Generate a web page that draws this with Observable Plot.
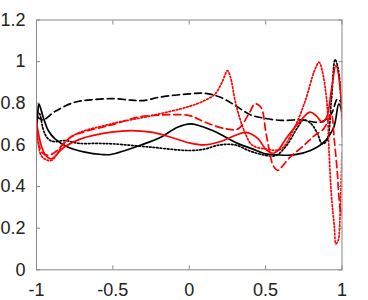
<!DOCTYPE html>
<html><head><meta charset="utf-8">
<script src="https://cdn.jsdelivr.net/npm/d3@7"></script>
<script src="https://cdn.jsdelivr.net/npm/@observablehq/plot@0.6"></script>
<style>body{margin:0;background:#fff}</style>
</head><body><div id="chart"></div>
<script>
const xTicks = [-1, -0.5, 0, 0.5, 1];
const yTicks = [0, 0.2, 0.4, 0.6, 0.8, 1, 1.2];

const blackSolidX = [-1, -0.99, -0.984, -0.956, -0.923, -0.879, -0.792, -0.683, -0.574, -0.513, -0.295, -0.186, -0.077, 0.01, 0.062, 0.152, 0.239, 0.324, 0.413, 0.5, 0.576, 0.685, 0.794, 0.881, 0.946, 0.979, 1];
const blackSolidY = [0.62, 0.77, 0.797, 0.733, 0.669, 0.629, 0.589, 0.565, 0.554, 0.554, 0.605, 0.637, 0.685, 0.701, 0.693, 0.669, 0.637, 0.605, 0.581, 0.557, 0.552, 0.552, 0.573, 0.613, 0.685, 0.797, 0.76];

const blackDashX = [-1, -0.96, -0.88, -0.75, -0.62, -0.49, -0.38, -0.3, -0.19, 0, 0.1, 0.2, 0.3, 0.4, 0.5, 0.6, 0.73, 0.86, 0.93, 0.97, 1];
const blackDashY = [0.74, 0.72, 0.76, 0.805, 0.818, 0.822, 0.815, 0.813, 0.83, 0.845, 0.848, 0.83, 0.79, 0.745, 0.727, 0.718, 0.72, 0.71, 0.75, 0.82, 0.8];

const blackDotX = [-1, -0.98, -0.96, -0.94, -0.91, -0.88, -0.81, -0.73, -0.6, -0.5, -0.25, 0, 0.1, 0.2, 0.3, 0.4, 0.5, 0.57, 0.64, 0.71, 0.75, 0.8, 0.84, 0.87, 0.9, 0.93, 0.955, 0.977, 1];
const blackDotY = [0.76, 0.75, 0.685, 0.645, 0.621, 0.616, 0.621, 0.608, 0.607, 0.605, 0.589, 0.573, 0.58, 0.6, 0.6, 0.57, 0.55, 0.55, 0.6, 0.685, 0.72, 0.7, 0.653, 0.605, 0.62, 0.81, 1.01, 0.957, 0.73];

const redSolidX = [-1, -0.97, -0.94, -0.905, -0.82, -0.71, -0.51, -0.38, -0.25, -0.12, 0, 0.1, 0.2, 0.3, 0.37, 0.45, 0.5, 0.55, 0.58, 0.64, 0.73, 0.79, 0.83, 0.87, 0.9, 0.93, 0.96, 0.99, 1];
const redSolidY = [0.71, 0.6, 0.55, 0.533, 0.589, 0.629, 0.661, 0.669, 0.661, 0.637, 0.61, 0.6, 0.615, 0.645, 0.66, 0.63, 0.58, 0.56, 0.573, 0.637, 0.717, 0.757, 0.741, 0.709, 0.733, 0.861, 0.981, 0.861, 0.64];

const redDashX = [-1, -0.99, -0.96, -0.92, -0.87, -0.83, -0.77, -0.68, -0.57, -0.49, -0.34, -0.25, 0, 0.1, 0.24, 0.32, 0.39, 0.43, 0.47, 0.5, 0.52, 0.55, 0.58, 0.6, 0.66, 0.75, 0.82, 0.88, 0.91, 0.93, 0.95, 0.97, 0.98, 0.995, 1];
const redDashY = [0.72, 0.62, 0.56, 0.55, 0.57, 0.6, 0.64, 0.665, 0.685, 0.7, 0.733, 0.741, 0.741, 0.71, 0.677, 0.677, 0.749, 0.797, 0.78, 0.669, 0.589, 0.5, 0.478, 0.49, 0.541, 0.597, 0.645, 0.677, 0.72, 0.749, 0.621, 0.461, 0.35, 0.26, 0.3];

const redDotX = [-1, -0.99, -0.97, -0.94, -0.905, -0.87, -0.83, -0.77, -0.68, -0.57, -0.49, -0.25, 0, 0.1, 0.17, 0.22, 0.25, 0.27, 0.3, 0.33, 0.37, 0.41, 0.5, 0.6, 0.69, 0.76, 0.82, 0.85, 0.87, 0.9, 0.915, 0.93, 0.95, 0.96, 0.975, 0.988, 0.995, 1];
const redDotY = [0.7, 0.62, 0.55, 0.53, 0.525, 0.55, 0.6, 0.64, 0.67, 0.69, 0.705, 0.74, 0.785, 0.813, 0.845, 0.91, 0.957, 0.925, 0.813, 0.73, 0.65, 0.6, 0.58, 0.58, 0.685, 0.813, 0.957, 0.997, 0.957, 0.813, 0.573, 0.365, 0.205, 0.125, 0.141, 0.285, 0.445, 0.57];

const series = [
  {xs: blackSolidX, ys: blackSolidY, color: "#000000", dash: null},
  {xs: blackDashX, ys: blackDashY, color: "#000000", dash: "7,4"},
  {xs: blackDotX, ys: blackDotY, color: "#000000", dash: "1.6,2"},
  {xs: redSolidX, ys: redSolidY, color: "#ff0000", dash: null},
  {xs: redDashX, ys: redDashY, color: "#ff0000", dash: "7,4"},
  {xs: redDotX, ys: redDotY, color: "#ff0000", dash: "1.6,2"}
];

const axisColor = "#888888";
const marks = [];
for (const s of series) {
  const rows = s.xs.map((x, i) => ({x, y: s.ys[i]}));
  marks.push(Plot.line(rows, {x: "x", y: "y", stroke: s.color, strokeWidth: 1.7, strokeDasharray: s.dash, curve: "catmull-rom", clip: true}));
}
marks.push(Plot.frame({stroke: axisColor, strokeWidth: 1}));
marks.push(Plot.axisX({anchor: "bottom", ticks: xTicks, tickSize: 0, tickPadding: 13, tickFormat: d => String(d), fill: "#222", label: null}));
marks.push(Plot.axisY({anchor: "left", ticks: yTicks, tickSize: 0, tickPadding: 11, tickFormat: d => String(d), fill: "#222", label: null}));
marks.push(Plot.axisX({anchor: "bottom", ticks: xTicks, tickSize: -4, tickFormat: () => "", stroke: axisColor, label: null}));
marks.push(Plot.axisX({anchor: "top", ticks: xTicks, tickSize: -4, tickFormat: () => "", stroke: axisColor, label: null}));
marks.push(Plot.axisY({anchor: "left", ticks: yTicks, tickSize: -4, tickFormat: () => "", stroke: axisColor, label: null}));
marks.push(Plot.axisY({anchor: "right", ticks: yTicks, tickSize: -4, tickFormat: () => "", stroke: axisColor, label: null}));

const chart = Plot.plot({
  width: 368, height: 300,
  marginLeft: 36, marginRight: 26.5, marginTop: 19.5, marginBottom: 30.7,
  x: {domain: [-1, 1], label: null},
  y: {domain: [0, 1.2], label: null},
  style: {fontFamily: "'Liberation Sans', Arial, sans-serif", fontSize: "18px", background: "#fff", color: "#222"},
  marks
});
document.getElementById("chart").appendChild(chart);
</script>
</body></html>
